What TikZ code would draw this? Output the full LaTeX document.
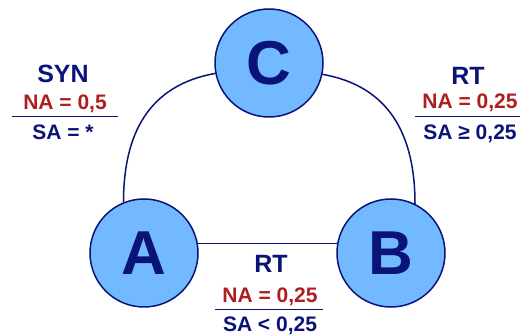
\documentclass[tikz,border=0pt]{standalone}
\usepackage{fontspec}
\setmainfont{Liberation Sans}
\usetikzlibrary{calc}
\definecolor{navy}{RGB}{10,20,120}
\definecolor{darkred}{RGB}{175,30,30}
\definecolor{ballblue}{RGB}{115,185,255}

\begin{document}
\begin{tikzpicture}[x=1pt,y=1pt,
  state/.style={circle,draw=navy,line width=1.5pt,fill=ballblue,minimum size=108pt,inner sep=0pt,
    font=\fontsize{62}{62}\selectfont\bfseries,text=navy},
  title/.style={anchor=base,font=\fontsize{25}{25}\selectfont\bfseries,text=navy,inner sep=0pt},
  na/.style={anchor=base,font=\fontsize{21}{21}\selectfont\bfseries,text=darkred,inner sep=0pt},
  sa/.style={anchor=base,font=\fontsize{21}{21}\selectfont\bfseries,text=navy,inner sep=0pt},
  rule/.style={navy,line width=1pt},
  link/.style={navy,line width=1.5pt}]
\useasboundingbox (0,0) rectangle (520,336);
% the three states
\node[state] (C) at (269,273) {C};
\node[state] (A) at (144,83) {A};
\node[state] (B) at (391,83) {B};
% links between states
\draw[link] (A.10) -- (B.170);
\draw[link] (C.191) to[out=190,in=90,looseness=1.1] (A.112);
\draw[link] (C.-12) to[out=-10,in=90,looseness=1.1] (B.64);
% label of C--A
\node[title] (synT) at (63,253) {SYN};
\node[na] (synN) at (65,226) {NA = 0,5};
\node[sa] (synS) at (63,196) {SA = *};
\draw[rule] (12,219) -- (118,219);
% label of C--B
\node[title] (rtcT) at (468,251) {RT};
\node[na] (rtcN) at (470,227) {NA = 0,25};
\node[sa] (rtcS) at (470,196) {SA ≥ 0,25};
\draw[rule] (415,219) -- (520,219);
% label of A--B
\node[title] (rtaT) at (271,63) {RT};
\node[na] (rtaN) at (270,33) {NA = 0,25};
\node[sa] (rtaS) at (270,4) {SA < 0,25};
\draw[rule] (215,26) -- (323,26);
\end{tikzpicture}
\end{document}
